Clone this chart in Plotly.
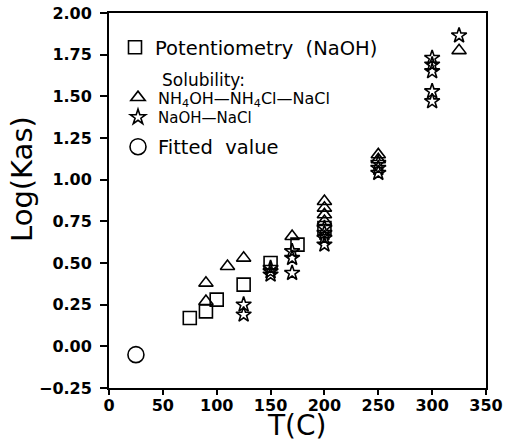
import plotly.graph_objects as go

# ---- data ----
pot_T = [75, 90, 100, 125, 150, 175, 200]
pot_logK = [0.17, 0.21, 0.28, 0.37, 0.50, 0.61, 0.71]

tri_T = [90, 90, 110, 125, 170, 200, 200, 200, 200, 250, 250, 325]
tri_logK = [0.38, 0.27, 0.48, 0.53, 0.66, 0.87, 0.83, 0.79, 0.75, 1.15, 1.12, 1.775]

star_T = [125, 125, 150, 150, 150, 170, 170, 170, 200, 200, 200, 200,
          250, 250, 250, 300, 300, 300, 300, 300, 325]
star_logK = [0.25, 0.19, 0.47, 0.45, 0.43, 0.57, 0.53, 0.44, 0.71, 0.68, 0.65, 0.61,
             1.10, 1.07, 1.04, 1.73, 1.69, 1.65, 1.53, 1.47, 1.865]

fit_T = [25]
fit_logK = [-0.05]

x_ticks = [0, 50, 100, 150, 200, 250, 300, 350]
y_ticks = [-0.25, 0.0, 0.25, 0.5, 0.75, 1.0, 1.25, 1.5, 1.75, 2.0]

FONT = "DejaVu Sans"
LW = 1.6

fig = go.Figure()
fig.add_trace(go.Scatter(
    x=pot_T, y=pot_logK, mode="markers", name="Potentiometry  (NaOH)",
    marker=dict(symbol="square-open", size=13, color="black", line=dict(width=LW, color="black")),
    legend="legend"))
fig.add_trace(go.Scatter(
    x=tri_T, y=tri_logK, mode="markers", name="NH<sub>4</sub>OH—NH<sub>4</sub>Cl—NaCl",
    marker=dict(symbol="triangle-up-open", size=12.5, color="black", line=dict(width=LW, color="black")),
    legend="legend2"))
fig.add_trace(go.Scatter(
    x=star_T, y=star_logK, mode="markers", name="NaOH—NaCl",
    marker=dict(symbol="star-open", size=11.5, color="black", line=dict(width=LW, color="black")),
    legend="legend3"))
fig.add_trace(go.Scatter(
    x=fit_T, y=fit_logK, mode="markers", name="Fitted  value",
    marker=dict(symbol="circle-open", size=16, color="black", line=dict(width=LW, color="black")),
    legend="legend4"))

L, R, T, B = 109, 19, 13, 55
W, H = 505, 443
pw, ph = W - L - R, H - T - B

def px_x(px):
    return (px - L) / pw

def px_y(py):
    return 1 - (py - T) / ph

def leg(xp, yp, size):
    return dict(x=px_x(xp), y=px_y(yp), xanchor="left", yanchor="top",
                font=dict(family=FONT, size=size, color="black"),
                bgcolor="rgba(0,0,0,0)")

fig.update_layout(
    template="none",
    width=W, height=H,
    margin=dict(l=L, r=R, t=T, b=B, autoexpand=False),
    paper_bgcolor="white", plot_bgcolor="white",
    showlegend=True,
    legend=leg(115, 28, 19.5),
    legend2=leg(118, 80.5, 16),
    legend3=leg(118, 101, 15),
    legend4=leg(118, 127.5, 19.5),
    xaxis=dict(range=[0, 350], tickvals=x_ticks, ticks="outside", ticklen=5, tickwidth=1.5,
               tickcolor="black", showline=True, linecolor="black", linewidth=1.8, mirror=True,
               showgrid=False, zeroline=False, automargin=False, ticklabelstandoff=-3,
               tickfont=dict(family=FONT, size=16, color="black", weight="bold")),
    yaxis=dict(range=[-0.25, 2.0], tickvals=y_ticks, tickformat=".2f", ticks="outside",
               ticklen=7, tickwidth=1.5, tickcolor="black", showline=True, linecolor="black",
               linewidth=1.8, mirror=True, showgrid=False, zeroline=False, automargin=False,
               ticklabelstandoff=5,
               tickfont=dict(family=FONT, size=16, color="black", weight="bold")),
    annotations=[
        dict(text="Solubility:", x=px_x(160), y=px_y(80), xref="paper", yref="paper",
             xanchor="left", yanchor="middle", showarrow=False,
             font=dict(family=FONT, size=17, color="black")),
        dict(text="Log(Kas)", x=px_x(22), y=px_y(179), xref="paper", yref="paper",
             xanchor="center", yanchor="middle", textangle=-90, showarrow=False,
             font=dict(family=FONT, size=29, color="black")),
        dict(text="T(C)", x=px_x(297), y=px_y(425), xref="paper", yref="paper",
             xanchor="center", yanchor="middle", showarrow=False,
             font=dict(family=FONT, size=28, color="black")),
    ],
)

fig.write_html("out.html", config={"displayModeBar": False},
               post_script="document.body.style.margin='0px';")
